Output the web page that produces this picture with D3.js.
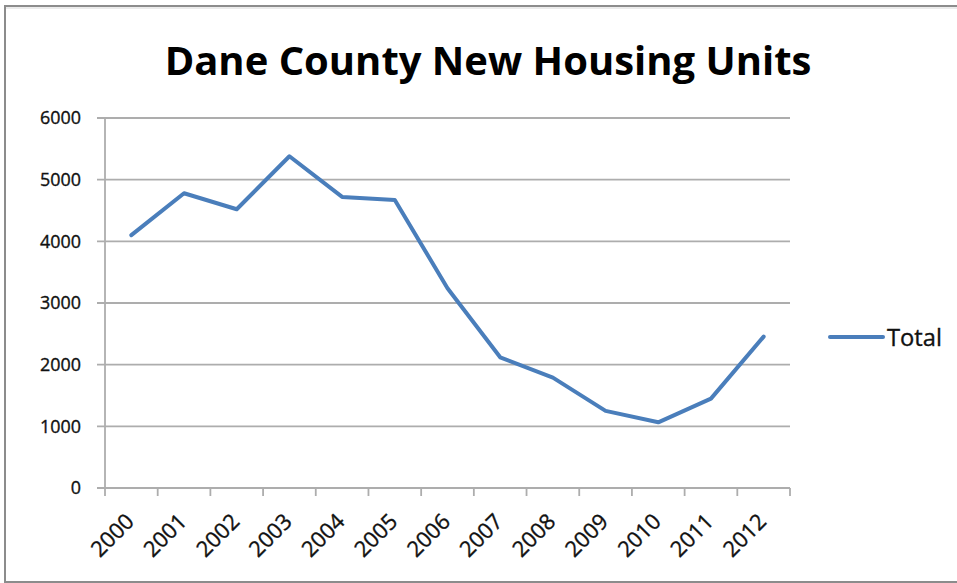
<!DOCTYPE html>
<html>
<head>
<meta charset="utf-8">
<script src="https://cdn.jsdelivr.net/npm/d3@7"></script>
<style>
  html, body { margin: 0; padding: 0; background: #fff; }
  svg { display: block; }
  text { font-family: "Open Sans", "Liberation Sans", sans-serif; fill: #000; }
  .lbl { fill: #111; stroke: #111; stroke-width: 0.35px; }
</style>
</head>
<body>
<svg id="chart" width="957" height="583"></svg>
<script>
const title = "Dane County New Housing Units";
const years = ["2000","2001","2002","2003","2004","2005","2006","2007","2008","2009","2010","2011","2012"];
const totals = [4100, 4780, 4520, 5380, 4720, 4670, 3240, 2120, 1790, 1250, 1065, 1450, 2455];
const yTicks = [0, 1000, 2000, 3000, 4000, 5000, 6000];
const seriesName = "Total";

const svg = d3.select("#chart");
const W = 957, H = 583;
const plot = { left: 105, right: 790, top: 118, bottom: 488 };

// frame
svg.append("rect").attr("x", 5).attr("y", 6).attr("width", W + 10).attr("height", 576)
  .attr("fill", "#fff").attr("stroke", "#8c8c8c").attr("stroke-width", 2);
svg.append("line").attr("x1", 6).attr("x2", W).attr("y1", 8).attr("y2", 8)
  .attr("stroke", "#d8d8d8").attr("stroke-width", 1);

// helper: fit font size so a string spans a target width
function fitSize(str, weight, target) {
  const t = svg.append("text").attr("font-size", 100).attr("font-weight", weight).text(str);
  const w = t.node().getComputedTextLength();
  t.remove();
  return 100 * target / w;
}

const x = d3.scaleBand().domain(years).range([plot.left, plot.right]).padding(0);
const y = d3.scaleLinear().domain([0, 6000]).range([plot.bottom, plot.top]);

// gridlines + y ticks
svg.append("g").selectAll("line").data(yTicks).join("line")
  .attr("x1", plot.left - 8).attr("x2", plot.right)
  .attr("y1", d => y(d)).attr("y2", d => y(d))
  .attr("stroke", "#adadad").attr("stroke-width", 1.8);

// y axis line
svg.append("line").attr("x1", plot.left).attr("x2", plot.left)
  .attr("y1", plot.top).attr("y2", plot.bottom)
  .attr("stroke", "#adadad").attr("stroke-width", 1.8);

// x axis ticks (between categories)
const xEdges = years.map(d => x(d)).concat([plot.right]);
svg.append("g").selectAll("line").data(xEdges).join("line")
  .attr("x1", d => d).attr("x2", d => d)
  .attr("y1", plot.bottom).attr("y2", plot.bottom + 8)
  .attr("stroke", "#adadad").attr("stroke-width", 1.8);

// y labels
const ySize = fitSize("6000", 400, 41);
svg.append("g").selectAll("text").data(yTicks).join("text")
  .attr("class", "lbl")
  .attr("x", 81).attr("y", d => y(d)).attr("dy", "0.36em")
  .attr("text-anchor", "end").attr("font-size", ySize)
  .text(d => d);

// x labels
const xSize = fitSize("2000", 400, 50);
svg.append("g").selectAll("text").data(years).join("text")
  .attr("class", "lbl")
  .attr("transform", d => `translate(${x(d) + x.bandwidth() / 2 + 4},523) rotate(-45)`)
  .attr("text-anchor", "end").attr("font-size", xSize)
  .text(d => d);

// line
const line = d3.line().x((d, i) => x(years[i]) + x.bandwidth() / 2).y(d => y(d));
svg.append("path").datum(totals).attr("d", line)
  .attr("fill", "none").attr("stroke", "#4a7ebb").attr("stroke-width", 4)
  .attr("stroke-linejoin", "round").attr("stroke-linecap", "round");

// legend
svg.append("line").attr("x1", 830).attr("x2", 883).attr("y1", 337).attr("y2", 337)
  .attr("stroke", "#4a7ebb").attr("stroke-width", 4).attr("stroke-linecap", "round");
const lSize = fitSize(seriesName, 400, 55);
svg.append("text").attr("class", "lbl").attr("x", 887).attr("y", 337).attr("dy", "0.36em")
  .attr("font-size", lSize).text(seriesName);

// title
const tSize = fitSize(title, 700, 647);
svg.append("text").attr("x", 488).attr("y", 75).attr("text-anchor", "middle")
  .attr("font-size", tSize).attr("font-weight", 700).text(title);
</script>
</body>
</html>
